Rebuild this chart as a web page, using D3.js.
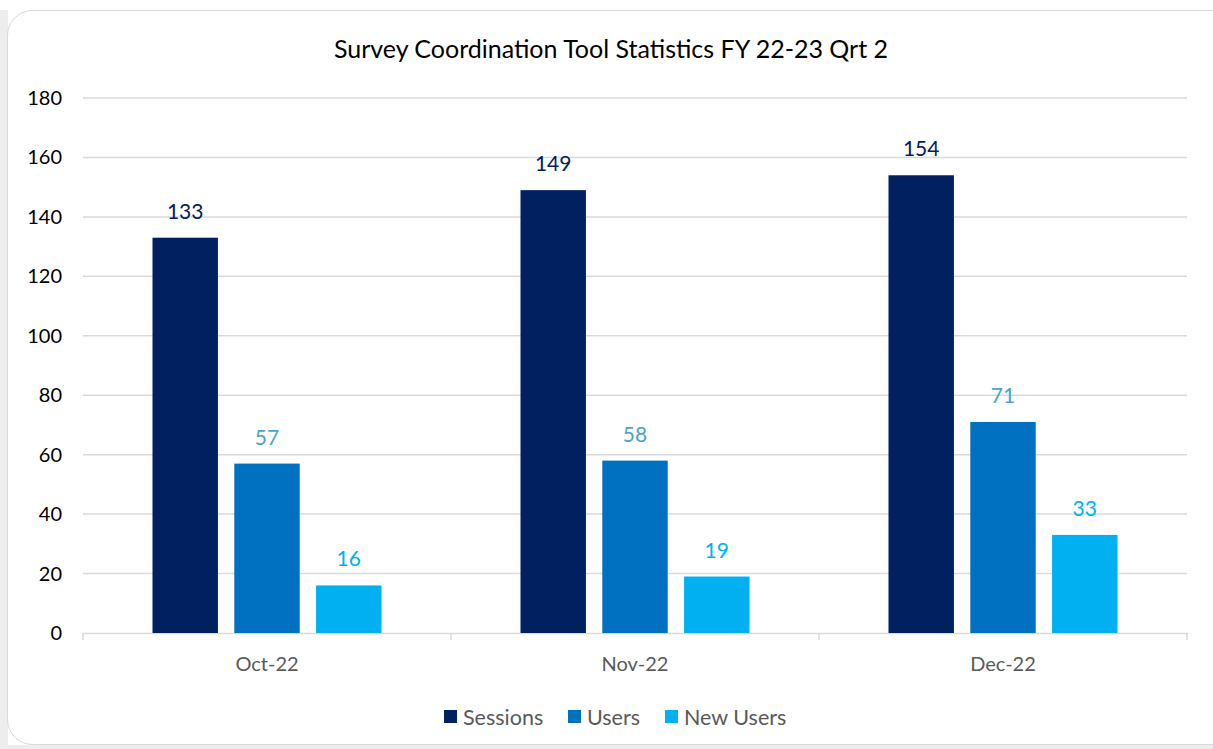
<!DOCTYPE html>
<html>
<head>
<meta charset="utf-8">
<script src="https://cdn.jsdelivr.net/npm/d3@7"></script>
<style>
  body { margin: 0; background: #fff; }
  text { font-family: Lato, "Open Sans", sans-serif; }
</style>
</head>
<body>
<div id="chart"></div>
<script>
var months = ["Oct-22", "Nov-22", "Dec-22"];
var seriesNames = ["Sessions", "Users", "New Users"];
var sessions = [133, 149, 154];
var users = [57, 58, 71];
var newUsers = [16, 19, 33];
var yTicks = [0, 20, 40, 60, 80, 100, 120, 140, 160, 180];

var colors = ["#002060", "#0070C0", "#00B0F0"];
var labelColors = ["#002060", "#4aa3c8", "#00B0F0"];

var W = 1213, H = 749;
var svg = d3.select("#chart").append("svg")
  .attr("width", W).attr("height", H);

// grey page outside the card
svg.append("rect").attr("x", 0).attr("y", 10).attr("width", 8).attr("height", H - 10).attr("fill", "#ededed");
svg.append("rect").attr("x", 0).attr("y", 745).attr("width", W).attr("height", 4).attr("fill", "#ededed");
svg.append("rect")
  .attr("x", 7.5).attr("y", 10.5).attr("width", 1240).attr("height", 734)
  .attr("rx", 25).attr("fill", "#fff").attr("stroke", "#d9d9d9");

var pLeft = 83, pRight = 1187, pTop = 98, pBottom = 633;

var x = d3.scaleBand().domain(months).range([pLeft, pRight]);
var x1 = d3.scaleBand().domain(seriesNames).range([0, 229]).paddingInner(0.2);
var y = d3.scaleLinear().domain([0, 180]).range([pBottom, pTop]);

var data = months.map(function(m, i) {
  return { month: m, vals: [sessions[i], users[i], newUsers[i]] };
});

// gridlines
svg.append("g").selectAll("line").data(yTicks.slice(1)).enter().append("line")
  .attr("x1", pLeft).attr("x2", pRight)
  .attr("y1", function(d) { return y(d); }).attr("y2", function(d) { return y(d); })
  .attr("stroke", "#d9d9d9").attr("stroke-width", 1.5);

// y labels
svg.append("g").selectAll("text").data(yTicks).enter().append("text")
  .attr("x", 62).attr("y", function(d) { return y(d); })
  .attr("dy", "0.35em").attr("text-anchor", "end")
  .attr("font-size", 20).attr("fill", "#000")
  .text(function(d) { return d; });

// x axis
var xAxis = d3.axisBottom(x).tickSize(0).tickFormat("");
var gx = svg.append("g").attr("transform", "translate(0," + pBottom + ")").call(xAxis);
gx.select(".domain").attr("stroke", "#d9d9d9").attr("stroke-width", 1.5);
var bounds = [pLeft].concat(months.map(function(m) { return x(m) + x.bandwidth(); }));
gx.selectAll(".sep").data(bounds).enter().append("line")
  .attr("x1", function(d) { return d; }).attr("x2", function(d) { return d; })
  .attr("y1", 0).attr("y2", 7).attr("stroke", "#d9d9d9").attr("stroke-width", 1.5);
svg.append("g").selectAll("text").data(months).enter().append("text")
  .attr("x", function(d) { return x(d) + x.bandwidth() / 2; })
  .attr("y", 671).attr("text-anchor", "middle")
  .attr("font-size", 20).attr("fill", "#595959")
  .text(function(d) { return d; });

// bars
var groups = svg.append("g").selectAll("g").data(data).enter().append("g")
  .attr("transform", function(d) { return "translate(" + (x(d.month) + (x.bandwidth() - 229) / 2) + ",0)"; });

groups.selectAll("rect").data(function(d) { return d.vals; }).enter().append("rect")
  .attr("x", function(d, i) { return x1(seriesNames[i]); })
  .attr("width", x1.bandwidth())
  .attr("y", function(d) { return y(d); })
  .attr("height", function(d) { return y(0) - y(d); })
  .attr("fill", function(d, i) { return colors[i]; });

groups.selectAll("text").data(function(d) { return d.vals; }).enter().append("text")
  .attr("x", function(d, i) { return x1(seriesNames[i]) + x1.bandwidth() / 2; })
  .attr("y", function(d) { return y(d) - 19; })
  .attr("text-anchor", "middle")
  .attr("font-size", 21)
  .attr("fill", function(d, i) { return labelColors[i]; })
  .text(function(d) { return d; });

// title
svg.append("text").attr("x", 611).attr("y", 58).attr("text-anchor", "middle")
  .attr("font-size", 25).attr("fill", "#000")
  .text("Survey Coordination Tool Statistics FY 22-23 Qrt 2");

// legend
var legendX = [444, 568, 665];
var lg = svg.append("g").selectAll("g").data(seriesNames).enter().append("g")
  .attr("transform", function(d, i) { return "translate(" + legendX[i] + ",710)"; });
lg.append("rect").attr("width", 13).attr("height", 13)
  .attr("fill", function(d, i) { return colors[i]; });
lg.append("text").attr("x", 19).attr("y", 7).attr("dy", "0.35em")
  .attr("font-size", 21.5).attr("fill", "#595959")
  .text(function(d) { return d; });
</script>
</body>
</html>
